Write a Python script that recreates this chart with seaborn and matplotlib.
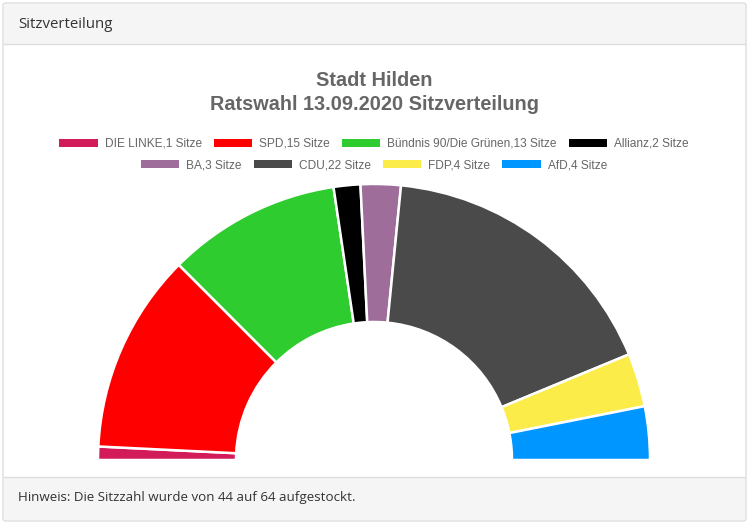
import matplotlib
matplotlib.use("Agg")
import matplotlib.pyplot as plt
from matplotlib.patches import FancyBboxPatch, Rectangle
import seaborn as sns

# Sitzverteilung Stadt Hilden, Ratswahl 2020
parteien = ["DIE LINKE", "SPD", "Bündnis 90/Die Grünen", "Allianz",
            "BA", "CDU", "FDP", "AfD"]
sitze = [1, 15, 13, 2, 3, 22, 4, 4]
farben = ["#d41b5a", "#ff0000", "#2ecc2e", "#000000",
          "#9e6d9a", "#4a4a4a", "#fcec4a", "#0096ff"]

sns.set_style("white")
plt.rcParams['font.family'] = ['Liberation Sans', 'DejaVu Sans']

W, H = 750, 527
fig = plt.figure(figsize=(7.5, 5.27), dpi=100)

def fx(px):
    return px / W

def fy(py):
    return 1 - py / H

# panel frame, header and footer (behind the chart)
fig.patches.append(FancyBboxPatch((fx(3), fy(521)), fx(743), 518 / H,
                                  boxstyle="round,pad=0,rounding_size=0.004",
                                  transform=fig.transFigure, facecolor="white",
                                  edgecolor="#dddddd", linewidth=1, zorder=-2))
fig.patches.append(Rectangle((fx(4), fy(44)), fx(741), 40 / H, transform=fig.transFigure,
                             facecolor="#f5f5f5", edgecolor="none", zorder=-1))
fig.patches.append(Rectangle((fx(4), fy(520)), fx(741), 43 / H, transform=fig.transFigure,
                             facecolor="#f5f5f5", edgecolor="none", zorder=-1))
fig.lines.append(plt.Line2D([fx(4), fx(745)], [fy(44), fy(44)], transform=fig.transFigure,
                            color="#dddddd", linewidth=1, zorder=0))
fig.lines.append(plt.Line2D([fx(4), fx(745)], [fy(477), fy(477)], transform=fig.transFigure,
                            color="#dddddd", linewidth=1, zorder=0))

fig.text(fx(18), fy(24), "Sitzverteilung", fontsize=10.8, color="#333333",
         family=["Open Sans", "DejaVu Sans"], va="center", ha="left")
fig.text(fx(18), fy(498), "Hinweis: Die Sitzzahl wurde von 44 auf 64 aufgestockt.",
         fontsize=9.6, color="#333333", family=["Open Sans", "DejaVu Sans"],
         va="center", ha="left")

# titles
fig.text(fx(374), fy(81), "Stadt Hilden", fontsize=14.3, fontweight="bold",
         color="#666666", ha="center", va="center")
fig.text(fx(374), fy(105), "Ratswahl 13.09.2020 Sitzverteilung", fontsize=14.3,
         fontweight="bold", color="#666666", ha="center", va="center")

# half donut: the second half is an invisible dummy wedge
cx, cy, R = 374, 460, 276
half_w, top_h = 285, 282
ax = fig.add_axes([fx(cx - half_w), fy(cy), 2 * half_w / W, top_h / H])
werte = sitze + [sum(sitze)]
wedges, _ = ax.pie(werte, colors=farben + ["none"], startangle=180, counterclock=False,
                   radius=1.0, wedgeprops=dict(width=0.5, edgecolor="white", linewidth=1.8))
wedges[-1].set_edgecolor("none")
ax.set_aspect("auto")
ax.set_xlim(-half_w / R, half_w / R)
ax.set_ylim(0, top_h / R)
ax.axis("off")

# legend in two centred rows
labels = [f"{p},{s} Sitze" for p, s in zip(parteien, sitze)]
for rows, ypx in [(range(0, 4), 144), (range(4, 8), 165)]:
    handles = [Rectangle((0, 0), 1, 1, facecolor=farben[i], edgecolor="none") for i in rows]
    leg = fig.legend(handles, [labels[i] for i in rows], loc="center",
                     bbox_to_anchor=(fx(374), fy(ypx)), ncol=4, frameon=False,
                     fontsize=8.6, handlelength=3.2, handleheight=0.7,
                     handletextpad=0.6, columnspacing=1.0, borderaxespad=0, borderpad=0)
    for t in leg.get_texts():
        t.set_color("#666666")

fig.savefig("out.png", dpi=100)
